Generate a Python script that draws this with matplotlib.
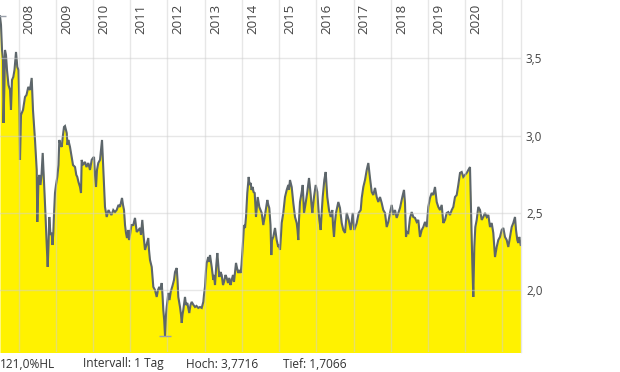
import matplotlib.pyplot as plt

t = [
    2007.503, 2007.530, 2007.557, 2007.584, 2007.597, 2007.624, 2007.637, 2007.664, 2007.691, 2007.731,
    2007.772, 2007.798, 2007.825, 2007.860, 2007.892, 2007.933, 2007.968,
    2008.000, 2008.027, 2008.040, 2008.067, 2008.121, 2008.175, 2008.215, 2008.263, 2008.309, 2008.354,
    2008.389, 2008.416, 2008.443, 2008.489, 2008.505, 2008.537, 2008.559, 2008.591, 2008.618, 2008.650,
    2008.671, 2008.698, 2008.725, 2008.752, 2008.784, 2008.806, 2008.827, 2008.859, 2008.892, 2008.913,
    2008.935, 2008.953, 2008.980,
    2009.007, 2009.042, 2009.074, 2009.096, 2009.128, 2009.160, 2009.195, 2009.222, 2009.249, 2009.295,
    2009.316, 2009.338, 2009.383, 2009.429, 2009.464, 2009.518, 2009.552, 2009.579, 2009.611, 2009.652,
    2009.679, 2009.697, 2009.732, 2009.786, 2009.826, 2009.875, 2009.920, 2009.966,
    2010.001, 2010.028, 2010.055, 2010.082, 2010.108, 2010.143, 2010.189, 2010.216, 2010.243, 2010.278,
    2010.304, 2010.323, 2010.369, 2010.417, 2010.458, 2010.498, 2010.546, 2010.592, 2010.637, 2010.686,
    2010.726, 2010.780, 2010.807, 2010.834, 2010.861, 2010.887, 2010.914, 2010.949, 2010.968, 2010.995,
    2011.035, 2011.083, 2011.129, 2011.175, 2011.223, 2011.263, 2011.290, 2011.325, 2011.357, 2011.398,
    2011.438, 2011.486, 2011.505, 2011.532, 2011.578, 2011.621, 2011.666, 2011.712, 2011.747, 2011.782,
    2011.814, 2011.846, 2011.868, 2011.889, 2011.913, 2011.935, 2011.962, 2011.981,
    2012.024, 2012.056, 2012.088, 2012.142, 2012.177, 2012.204, 2012.249, 2012.271, 2012.292, 2012.338,
    2012.365, 2012.384, 2012.405, 2012.426, 2012.472, 2012.499, 2012.534, 2012.587, 2012.620, 2012.652,
    2012.700, 2012.741, 2012.781, 2012.829, 2012.875, 2012.921, 2012.964, 2012.982,
    2013.009, 2013.036, 2013.055, 2013.098, 2013.117, 2013.144, 2013.189, 2013.232, 2013.251, 2013.278,
    2013.313, 2013.340, 2013.366, 2013.393, 2013.425, 2013.458, 2013.493, 2013.520, 2013.560, 2013.592,
    2013.627, 2013.662, 2013.694, 2013.726, 2013.761, 2013.788, 2013.815, 2013.842, 2013.869, 2013.904,
    2013.936, 2013.968, 2013.990,
    2014.022, 2014.057, 2014.084, 2014.111, 2014.145, 2014.183, 2014.205, 2014.237, 2014.258, 2014.291,
    2014.312, 2014.344, 2014.379, 2014.406, 2014.425, 2014.468, 2014.500, 2014.532, 2014.575, 2014.621,
    2014.683, 2014.710, 2014.736, 2014.769, 2014.790, 2014.809, 2014.844, 2014.890, 2014.935, 2014.978,
    2014.997,
    2015.024, 2015.051, 2015.069, 2015.112, 2015.158, 2015.204, 2015.247, 2015.265, 2015.292, 2015.338,
    2015.381, 2015.427, 2015.472, 2015.494, 2015.515, 2015.534, 2015.561, 2015.607, 2015.634, 2015.669,
    2015.714, 2015.757, 2015.803, 2015.849, 2015.870, 2015.892, 2015.937, 2015.983,
    2016.026, 2016.058, 2016.080, 2016.117, 2016.139, 2016.171, 2016.214, 2016.251, 2016.273, 2016.294,
    2016.340, 2016.386, 2016.429, 2016.447, 2016.474, 2016.501, 2016.528, 2016.590, 2016.635, 2016.681,
    2016.724, 2016.770, 2016.815, 2016.869, 2016.923, 2016.977,
    2017.020, 2017.084, 2017.138, 2017.192, 2017.219, 2017.262, 2017.307, 2017.353, 2017.396, 2017.441,
    2017.487, 2017.530, 2017.576, 2017.621, 2017.664, 2017.710, 2017.755, 2017.798, 2017.844, 2017.890,
    2017.933, 2017.978,
    2018.024, 2018.067, 2018.113, 2018.158, 2018.201, 2018.247, 2018.309, 2018.354, 2018.381, 2018.408,
    2018.435, 2018.470, 2018.516, 2018.561, 2018.604, 2018.650, 2018.695, 2018.738, 2018.784, 2018.830,
    2018.873, 2018.919, 2018.964,
    2019.007, 2019.053, 2019.098, 2019.141, 2019.187, 2019.233, 2019.276, 2019.321, 2019.367, 2019.410,
    2019.456, 2019.501, 2019.544, 2019.590, 2019.636, 2019.679, 2019.724, 2019.770, 2019.813, 2019.859,
    2019.904, 2019.947, 2019.993,
    2020.039, 2020.082, 2020.127, 2020.154, 2020.189, 2020.216, 2020.243, 2020.270, 2020.307, 2020.350,
    2020.396, 2020.442, 2020.485, 2020.530, 2020.576, 2020.619, 2020.665, 2020.710, 2020.753, 2020.799,
    2020.844, 2020.887, 2020.933, 2020.979,
    2021.022, 2021.067, 2021.113, 2021.156, 2021.202, 2021.247, 2021.290, 2021.336, 2021.363, 2021.398,
    2021.425, 2021.452, 2021.489,
]
kurs = [
    3.7716, 3.715, 3.554, 3.489, 3.082, 3.360, 3.554, 3.521, 3.424, 3.327,
    3.295, 3.166, 3.360, 3.379, 3.424, 3.541, 3.444,
    3.424, 3.166, 2.843, 3.134, 3.166, 3.250, 3.263, 3.315, 3.295, 3.373,
    3.166, 3.069, 2.972, 2.778, 2.442, 2.713, 2.746, 2.681, 2.746, 2.888,
    2.778, 2.649, 2.487, 2.325, 2.151, 2.293, 2.474, 2.358, 2.371, 2.293,
    2.371, 2.487, 2.629,
    2.681, 2.733, 2.810, 2.972, 2.940, 2.927, 3.004, 3.056, 3.062, 3.017,
    2.940, 2.972, 2.927, 2.862, 2.810, 2.797, 2.746, 2.733, 2.700, 2.668,
    2.629, 2.843, 2.810, 2.830, 2.797, 2.823, 2.778, 2.843,
    2.856, 2.862, 2.746, 2.668, 2.778, 2.823, 2.843, 2.907, 2.972, 2.778,
    2.649, 2.539, 2.474, 2.519, 2.500, 2.487, 2.519, 2.506, 2.519, 2.552,
    2.539, 2.597, 2.552, 2.519, 2.422, 2.371, 2.338, 2.390, 2.325, 2.358,
    2.422, 2.422, 2.468, 2.377, 2.390, 2.403, 2.358, 2.455, 2.358, 2.261,
    2.293, 2.338, 2.261, 2.196, 2.151, 2.022, 2.002, 1.957, 2.002, 2.022,
    2.002, 2.047, 1.970, 1.873, 1.808, 1.7066, 1.841, 1.892,
    1.983, 1.937, 1.989, 2.034, 2.067, 2.118, 2.144, 2.067, 1.957, 1.892,
    1.841, 1.789, 1.841, 1.873, 1.957, 1.905, 1.918, 1.853, 1.905, 1.925,
    1.905, 1.892, 1.899, 1.886, 1.892, 1.886, 1.925, 1.970,
    2.022, 2.131, 2.177, 2.215, 2.183, 2.228, 2.151, 2.067, 2.099, 2.034,
    2.164, 2.241, 2.164, 2.086, 2.118, 2.099, 2.034, 2.054, 2.099, 2.080,
    2.047, 2.080, 2.034, 2.067, 2.099, 2.054, 2.118, 2.177, 2.144, 2.112,
    2.131, 2.112, 2.164,
    2.280, 2.422, 2.403, 2.474, 2.629, 2.733, 2.681, 2.694, 2.649, 2.668,
    2.636, 2.629, 2.474, 2.552, 2.603, 2.539, 2.519, 2.500, 2.422, 2.487,
    2.584, 2.552, 2.532, 2.422, 2.228, 2.325, 2.345, 2.403, 2.325, 2.280,
    2.293,
    2.261, 2.358, 2.435, 2.500, 2.603, 2.649, 2.681, 2.649, 2.713, 2.668,
    2.565, 2.474, 2.435, 2.390, 2.325, 2.455, 2.571, 2.636, 2.681, 2.500,
    2.565, 2.636, 2.726, 2.616, 2.552, 2.500, 2.603, 2.681,
    2.636, 2.519, 2.455, 2.390, 2.487, 2.603, 2.713, 2.765, 2.681, 2.603,
    2.519, 2.474, 2.519, 2.422, 2.345, 2.442, 2.500, 2.571, 2.532, 2.435,
    2.390, 2.371, 2.500, 2.455, 2.390, 2.500,
    2.390, 2.435, 2.500, 2.519, 2.597, 2.668, 2.713, 2.778, 2.823, 2.726,
    2.636, 2.616, 2.662, 2.603, 2.571, 2.603, 2.565, 2.519, 2.500, 2.409,
    2.442, 2.500,
    2.552, 2.487, 2.519, 2.468, 2.500, 2.532, 2.603, 2.649, 2.565, 2.345,
    2.377, 2.371, 2.468, 2.506, 2.474, 2.468, 2.442, 2.455, 2.345, 2.390,
    2.409, 2.442, 2.409,
    2.539, 2.597, 2.629, 2.616, 2.668, 2.571, 2.539, 2.519, 2.552, 2.435,
    2.455, 2.500, 2.506, 2.487, 2.519, 2.539, 2.603, 2.616, 2.681, 2.759,
    2.765, 2.733, 2.746,
    2.759, 2.778, 2.797, 2.519, 2.177, 1.957, 2.280, 2.409, 2.455, 2.539,
    2.519, 2.455, 2.474, 2.500, 2.474, 2.487, 2.409, 2.435, 2.371, 2.215,
    2.280, 2.325, 2.345, 2.390,
    2.403, 2.345, 2.325, 2.280, 2.345, 2.409, 2.435, 2.474, 2.390, 2.325,
    2.306, 2.345, 2.293,
]

jahre = list(range(2008, 2022))
jahr_labels = [str(j) for j in range(2008, 2021)]
y_ticks = [2.0, 2.5, 3.0, 3.5]
y_labels = ['2,0', '2,5', '3,0', '3,5']
info = ['121,0%HL', 'Intervall: 1 Tag', 'Hoch: 3,7716', 'Tief: 1,7066']

plt.rcParams['font.family'] = ['Open Sans', 'DejaVu Sans']

fig = plt.figure(figsize=(6.2, 3.72), dpi=100)
ax = fig.add_axes([0, 20 / 372, 521 / 620, 352 / 372])

ax.fill_between(t, kurs, 1.5, color='#fff200', lw=0, zorder=1)
ax.plot(t, kurs, color='#5d666b', lw=1.5, zorder=2, solid_joinstyle='miter')

# Markierung Hoch / Tief
i_hi = kurs.index(max(kurs))
i_lo = kurs.index(min(kurs))
ax.hlines(kurs[i_hi], t[i_hi] - 0.15, t[i_hi] + 0.15, color='#9aa0aa', lw=1, zorder=3)
ax.hlines(kurs[i_lo], t[i_lo] - 0.15, t[i_lo] + 0.15, color='#9aa0aa', lw=1, zorder=3)

ax.set_xlim(2007.503, 2021.497)
ax.set_ylim(1.601, 3.877)

ax.set_xticks(jahre)
ax.set_xticklabels([])
ax.set_yticks(y_ticks)
ax.set_yticklabels(y_labels)
ax.yaxis.tick_right()
ax.tick_params(axis='both', length=0)
ax.tick_params(axis='y', pad=3.6, labelsize=8.5, labelcolor='#444444')
ax.grid(True, color='#d0d0d0', alpha=0.5, lw=1)
ax.set_axisbelow(False)
for g in ax.get_xgridlines() + ax.get_ygridlines():
    g.set_zorder(2.5)

for s in ['top', 'left', 'bottom']:
    ax.spines[s].set_visible(False)
ax.spines['right'].set_color('#e6e6e6')
ax.spines['right'].set_linewidth(1)

for lab in jahr_labels:
    ax.annotate(lab, xy=(int(lab), 1), xycoords=('data', 'axes fraction'),
                xytext=(3, -2.5), textcoords='offset points', rotation=90,
                ha='left', va='top', fontsize=9.5, color='#444444')

xs = [0, 83, 186, 283]
for x, s in zip(xs, info):
    fig.text(x / 620, (372 - 367.5) / 372, s, fontsize=8.6, color='#333333',
             ha='left', va='baseline')

fig.savefig('out.png', dpi=100)
